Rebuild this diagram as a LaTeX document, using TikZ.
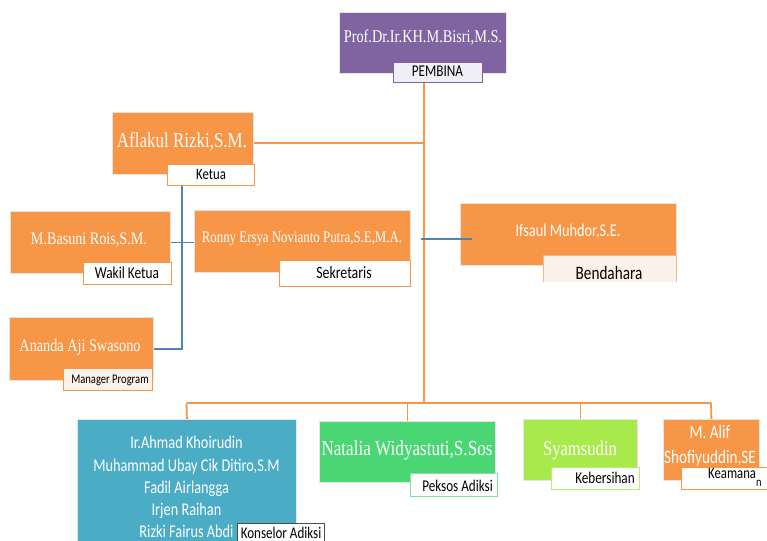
\documentclass[tikz,border=0pt]{standalone}
\usepackage{fontspec}
\newfontfamily\serifc[FakeStretch=0.8]{Liberation Serif}
\newfontfamily\sansc[FakeStretch=0.8]{Carlito}
\newcommand\fsz[1]{\fontsize{#1}{#1}\selectfont}
\definecolor{orgF}{HTML}{F79646}
\definecolor{orgL}{HTML}{F79646}
\definecolor{purF}{HTML}{8064A2}
\definecolor{bluL}{HTML}{4F81BD}
\definecolor{tealF}{HTML}{4BACC6}
\definecolor{grnF}{HTML}{4BD674}
\definecolor{limF}{HTML}{A8E94B}
\definecolor{lavF}{HTML}{F1EFF6}
\definecolor{peachF}{HTML}{FDF2EA}
\begin{document}
\begin{tikzpicture}[x=1pt,y=-1pt,
  box/.style={rectangle, inner sep=0pt, anchor=north west, draw=black!10, line width=0.8pt},
  lab/.style={rectangle, inner sep=0pt, anchor=north west, fill=white, line width=1.1pt},
  wtxt/.style={anchor=base, inner sep=0pt, text=white},
  btxt/.style={anchor=base, inner sep=0pt, text=black},
  oline/.style={draw=orgL, line width=1.8pt},
  bline/.style={draw=bluL, line width=1.8pt}]
\useasboundingbox[fill=white] (0,0) rectangle (767,540);

% coordinates for connector junctions
\coordinate (trunkbot) at (424,403);
\coordinate (bus1) at (186.5,403);
\coordinate (bus4) at (711,403);
\coordinate (bluev) at (182,200);
\coordinate (bj) at (421,239);

% ----- boxes -----
\node[box, fill=purF, minimum width=167pt, minimum height=61pt] (prof) at (339,12) {};
\node[box, fill=orgF, minimum width=141pt, minimum height=62pt] (afl) at (112,112) {};
\node[box, fill=orgF, minimum width=160pt, minimum height=62pt] (bas) at (10,211) {};
\node[box, fill=orgF, minimum width=216pt, minimum height=62pt] (ron) at (194,210) {};
\node[box, fill=orgF, minimum width=216pt, minimum height=62pt] (ifs) at (460,203) {};
\node[box, fill=orgF, minimum width=144pt, minimum height=63pt] (anan) at (9,317) {};
\node[box, fill=tealF, minimum width=219pt, minimum height=124pt] (kons) at (77,419) {};
\node[box, fill=grnF, minimum width=176pt, minimum height=61pt] (nat) at (319,421) {};
\node[box, fill=limF, minimum width=114pt, minimum height=61pt] (sya) at (523,419) {};
\node[box, fill=orgF, minimum width=96pt, minimum height=61pt] (alif) at (663,419) {};

% ----- connectors -----
\draw[oline] (trunkbot |- 0,82) -- (trunkbot);
\draw[oline] (afl.east) -- (afl.east -| trunkbot);
\draw[oline] (bus1) -- (bus4);
\draw[oline] (bus1) -- (kons.north);
\draw[oline] (bus1 -| nat.north) -- (nat.north);
\draw[oline] (bus1 -| sya.north) -- (sya.north);
\draw[oline] (bus4) -- (alif.north);
\draw[bline] (bluev |- 0,185) -- (bluev |- anan.east) -- (anan.east);
\draw[bline] (bas.east) -- (bas.east -| ron.west);
\draw[bline] (bj) -- ([xshift=12pt]ifs.west |- bj);

% ----- labels -----
\node[lab, fill=lavF, draw=purF, line width=0.9pt, minimum width=89pt, minimum height=20pt] (pemlab) at (393,62) {};
\node[lab, draw=orgF, minimum width=87pt, minimum height=21pt] (ketlab) at (167,164) {};
\node[lab, draw=orgF, minimum width=88pt, minimum height=22pt] (waklab) at (83,262) {};
\node[lab, draw=orgF, minimum width=131pt, minimum height=26pt] (seklab) at (279,260) {};
\begin{scope}
\clip (540,250) rectangle (680,281);
\node[lab, fill=peachF, draw=orgF!70, minimum width=133pt, minimum height=40pt] (bendlab) at (543,255) {};
\node[btxt, font=\sansc\fsz{19}] (t-bend) at (609,279) {Bendahara};
\end{scope}
\node[lab, fill=peachF, draw=orgF, minimum width=89pt, minimum height=22pt] (manlab) at (63,368) {};
\node[lab, draw=black!70, line width=0.8pt, minimum width=87pt, minimum height=20pt] (konslab) at (237,523) {};
\node[lab, draw=grnF!70, minimum width=87pt, minimum height=23pt] (peklab) at (410,473) {};
\node[lab, draw=limF!80, minimum width=88pt, minimum height=22pt] (keblab) at (551,467) {};
\node[lab, draw=orgF, minimum width=90pt, minimum height=22pt] (keamlab) at (681,467) {};

% ----- texts in boxes -----
\node[wtxt, font=\serifc\fsz{17.9}] (t-prof) at (423,43) {Prof.Dr.Ir.KH.M.Bisri,M.S.};
\node[wtxt, font=\serifc\fsz{21.2}] (t-afl) at (182,147) {Aflakul Rizki,S.M.};
\node[wtxt, font=\serifc\fsz{17.7}] (t-bas) at (89,244) {M.Basuni Rois,S.M.};
\node[wtxt, font=\serifc\fsz{16.1}] (t-ron) at (302,242) {Ronny Ersya Novianto Putra,S.E,M.A.};
\node[wtxt, font=\sansc\fsz{17.9}] (t-ifs) at (568,236) {Ifsaul Muhdor,S.E.};
\node[wtxt, font=\serifc\fsz{17.8}] (t-anan) at (80,351) {Ananda Aji Swasono};
\node[wtxt, font=\sansc\fsz{17.9}, align=center] (t-kons1) at (186.5,448) {Ir.Ahmad Khoirudin};
\node[wtxt, font=\sansc\fsz{17.9}] (t-kons2) at (186.5,471) {Muhammad Ubay Cik Ditiro,S.M};
\node[wtxt, font=\sansc\fsz{17.9}] (t-kons3) at (186.5,493) {Fadil Airlangga};
\node[wtxt, font=\sansc\fsz{17.9}] (t-kons4) at (186.5,515) {Irjen Raihan};
\node[wtxt, font=\sansc\fsz{17.9}] (t-kons5) at (186.5,537) {Rizki Fairus Abdi};
\node[wtxt, font=\serifc\fsz{21.4}] (t-nat) at (407,455) {Natalia Widyastuti,S.Sos};
\node[wtxt, font=\serifc\fsz{20.8}] (t-sya) at (580,455) {Syamsudin};
\node[wtxt, font=\sansc\fsz{19}] (t-alif1) at (710,438) {M. Alif};
\node[wtxt, font=\sansc\fsz{19}] (t-alif2) at (710,463) {Shofiyuddin,SE};

% ----- label texts -----
\node[btxt, font=\sansc\fsz{16.5}] (t-pem) at (437.5,77) {PEMBINA};
\node[btxt, font=\sansc\fsz{15.9}] (t-ket) at (211,179) {Ketua};
\node[btxt, font=\sansc\fsz{16.7}] (t-wak) at (127,278) {Wakil Ketua};
\node[btxt, font=\sansc\fsz{17.3}] (t-sek) at (344,278) {Sekretaris};
\node[btxt, font=\sansc\fsz{13.2}] (t-man) at (110,383) {Manager Program};
\node[btxt, font=\sansc\fsz{16.3}] (t-konsl) at (281,538) {Konselor Adiksi};
\node[btxt, font=\sansc\fsz{16.4}] (t-pek) at (457.5,491) {Peksos Adiksi};
\node[btxt, font=\sansc\fsz{16.5}] (t-keb) at (605,483) {Kebersihan};
\node[btxt, font=\sansc\fsz{15.9}, anchor=base west] (t-keam) at (708,478) {Keamana\raisebox{-8pt}{\fsz{13}n}};
\end{tikzpicture}
\end{document}
